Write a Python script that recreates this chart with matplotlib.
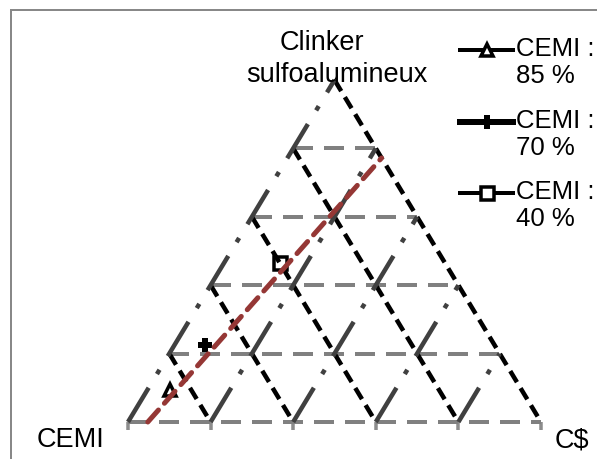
import numpy as np
import matplotlib
matplotlib.use("Agg")
import matplotlib.pyplot as plt
from matplotlib.lines import Line2D
from matplotlib.patches import Rectangle

plt.rcParams["font.family"] = ["Liberation Sans", "DejaVu Sans"]
plt.rcParams["lines.scale_dashes"] = False

# ternary compositions (CEMI, clinker sulfoalumineux, C$)
series_labels = ["CEMI :\n85 %", "CEMI :\n70 %", "CEMI :\n40 %"]
cemi = [0.85, 0.70, 0.40]
clinker = [0.095, 0.225, 0.465]
cs = [0.055, 0.075, 0.135]

# red trend line end points
trend_cemi = [0.952, 0.0]
trend_clinker = [0.0, 0.772]
trend_cs = [0.048, 0.228]

grid_levels = [0.2, 0.4, 0.6, 0.8]
tick_pos = [0.0, 0.2, 0.4, 0.6, 0.8, 1.0]

PX = 0.72  # points per pixel at dpi 100


def to_xy(clk, c_s):
    clk = np.asarray(clk, dtype=float)
    c_s = np.asarray(c_s, dtype=float)
    return c_s + clk / 2.0, clk


W, H = 597, 459
fig = plt.figure(figsize=(W / 100.0, H / 100.0), dpi=100)
ax = fig.add_axes([128.0 / W, (H - 422.0) / H, 413.0 / W, 342.0 / H])
ax.set_xlim(0, 1)
ax.set_ylim(0, 1)
for sp in ax.spines.values():
    sp.set_visible(False)
ax.set_xticks(tick_pos)
ax.set_xticklabels([])
ax.set_yticks([])
ax.tick_params(axis="x", direction="out", length=8 * PX, width=3.5 * PX,
               colors="#8c8c8c")

# series markers
markers = [dict(marker="^", ms=12 * PX, mew=3.5 * PX, mfc="white", lw=4 * PX),
           dict(marker="+", ms=14 * PX, mew=6 * PX, mfc="black", lw=6 * PX),
           dict(marker="s", ms=13 * PX, mew=3.5 * PX, mfc="white", lw=4 * PX)]
for i in range(len(cemi)):
    x, y = to_xy([clinker[i]], [cs[i]])
    ax.plot(x, y, linestyle="none", color="black", marker=markers[i]["marker"],
            ms=markers[i]["ms"], mew=markers[i]["mew"], mfc=markers[i]["mfc"],
            mec="black", clip_on=False, zorder=2)

gray_dash = (0, (20 * PX, 11 * PX))
black_dash = (0, (13 * PX, 7 * PX))
dash_dot = (0, (40 * PX, 16 * PX, 5 * PX, 16 * PX))

# horizontal lines (constant clinker)
for t in [0.0] + grid_levels:
    ax.plot([t / 2, 1 - t / 2], [t, t], color="#808080", lw=4 * PX,
            linestyle=gray_dash, clip_on=False, zorder=3)

# lines parallel to the right edge
for t in grid_levels + [1.0]:
    ax.plot([t / 2, t], [t, 0], color="black", lw=4.5 * PX,
            linestyle=black_dash, clip_on=False, zorder=3)

# lines parallel to the left edge
for t in [0.0] + grid_levels:
    ax.plot([t, 0.5 + t / 2], [0, 1 - t], color="#404040", lw=4.5 * PX,
            linestyle=dash_dot, clip_on=False, zorder=3)

# trend line
tx, ty = to_xy(trend_clinker, trend_cs)
ax.plot(tx, ty, color="#953735", lw=5 * PX, linestyle=(0, (16 * PX, 9 * PX)),
        dash_capstyle="round", clip_on=False, zorder=4)

fs = 19.5
fig.text(322.0 / W, 1 - 50.0 / H, "Clinker", ha="center", va="baseline",
         fontsize=fs)
fig.text(337.0 / W, 1 - 82.0 / H, "sulfoalumineux", ha="center",
         va="baseline", fontsize=fs)
fig.text(37.0 / W, 1 - 440.0 / H, "CEMI", ha="left", va="center", fontsize=fs)
fig.text(555.0 / W, 1 - 440.0 / H, "C$", ha="left", va="center", fontsize=fs)

# legend drawn by hand
leg_y = [50, 122, 193]
for i, lab in enumerate(series_labels):
    yy = 1 - leg_y[i] / H
    ln = Line2D([460.0 / W, 513.0 / W], [yy, yy], transform=fig.transFigure,
                color="black", lw=markers[i]["lw"])
    fig.add_artist(ln)
    mk = Line2D([486.5 / W], [yy], transform=fig.transFigure, color="black",
                linestyle="none", marker=markers[i]["marker"],
                ms=markers[i]["ms"], mew=markers[i]["mew"],
                mfc=markers[i]["mfc"], mec="black")
    fig.add_artist(mk)
    fig.text(516.0 / W, yy + 13.0 / H, lab, ha="left", va="top",
             fontsize=18.5, linespacing=1.15)

# chart border (right and bottom sides fall outside the picture)
fig.add_artist(Rectangle((11.0 / W, -0.1), 1.2, 1 - 10.0 / H + 0.1,
                         transform=fig.transFigure, fill=False,
                         edgecolor="#888888", lw=2 * PX))

fig.savefig("out.png", dpi=100)
